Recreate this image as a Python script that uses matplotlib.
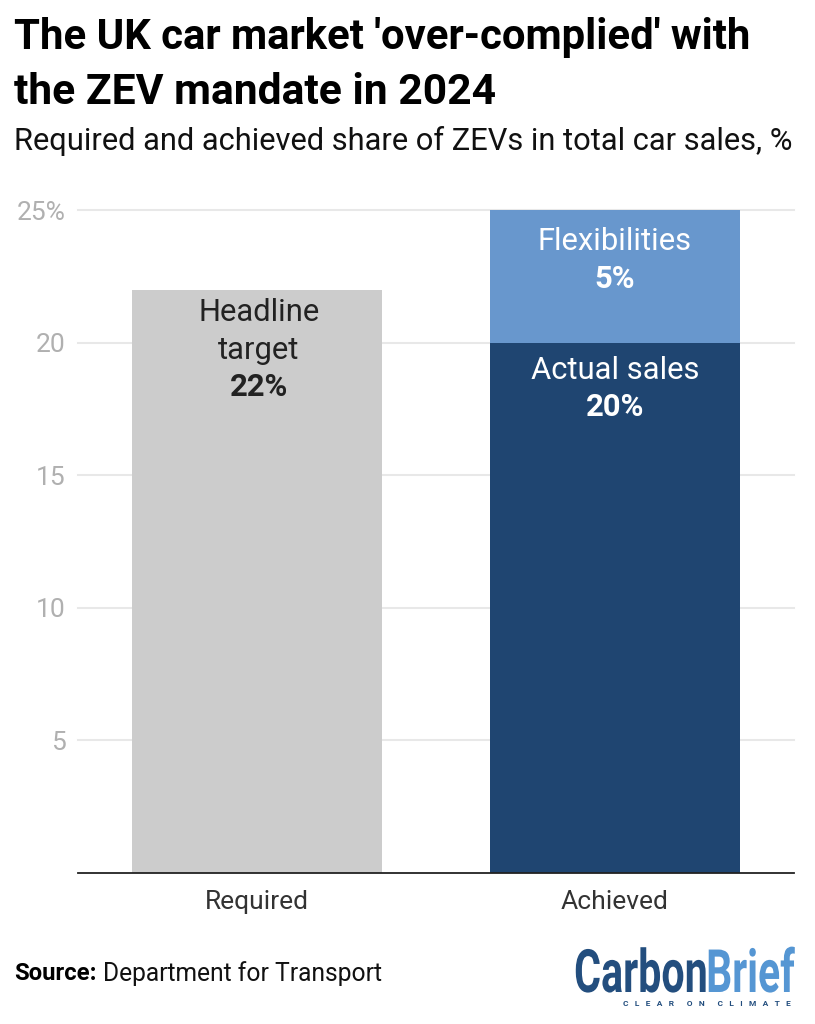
import matplotlib
matplotlib.use('Agg')
import matplotlib.pyplot as plt
from matplotlib.patheffects import AbstractPathEffect
from matplotlib.transforms import Affine2D

plt.rcParams['font.family'] = ['Roboto', 'DejaVu Sans']

# Данные
categories = ['Required', 'Achieved']
base_values = [22, 20]
top_values = [0, 5]
y_ticks = [5, 10, 15, 20, 25]
y_labels = ['5', '10', '15', '20', '25%']

W, H = 815, 1024
fig = plt.figure(figsize=(W / 100, H / 100), dpi=100)
ax = fig.add_axes([78 / W, 1 - 873 / H, (794 - 78) / W, (873 - 210) / H])

colors = ['#cccccc', '#1f4571']
ax.bar(categories, base_values, width=0.7, color=colors, zorder=2)
ax.bar(categories, top_values, bottom=base_values, width=0.7, color='#6897cd', zorder=2)

ax.set_xlim(-0.5, 1.5)
ax.set_ylim(0, 25)
ax.set_yticks(y_ticks)
ax.set_yticklabels(y_labels, color='#b0b0b0', fontsize=19)
ax.set_xticks(range(2))
ax.set_xticklabels(categories, color='#333333', fontsize=19)
ax.tick_params(axis='y', length=0, pad=8.7)
ax.tick_params(axis='x', length=0, pad=12)
ax.grid(axis='y', color='#e8e8e8', lw=1.5, zorder=1)
for line in ax.get_ygridlines():
    line.set_clip_on(False)
ax.set_axisbelow(True)
for s in ['top', 'left', 'right']:
    ax.spines[s].set_visible(False)
ax.spines['bottom'].set_color('#222222')
ax.spines['bottom'].set_linewidth(1.3)

# Подписи столбцов
ax.text(0.005, 21.15, 'Headline', ha='center', va='center', fontsize=22.3, color='#222222')
ax.text(0.005, 19.7, 'target', ha='center', va='center', fontsize=22.3, color='#222222')
ax.text(0.005, 18.31, '22%', ha='center', va='center', fontsize=22.3, weight='bold', color='#222222')
ax.text(1, 23.82, 'Flexibilities', ha='center', va='center', fontsize=22.3, color='white')
ax.text(1, 22.41, '5%', ha='center', va='center', fontsize=22.3, weight='bold', color='white')
ax.text(1, 18.94, 'Actual sales', ha='center', va='center', fontsize=22.3, color='white')
ax.text(1, 17.58, '20%', ha='center', va='center', fontsize=22.3, weight='bold', color='white')

# Заголовок
fig.text(14 / W, 1 - 38 / H, "The UK car market 'over-complied' with", fontsize=30.2, weight='bold', color='black', va='center')
fig.text(14 / W, 1 - 92 / H, 'the ZEV mandate in 2024', fontsize=30.7, weight='bold', color='black', va='center')
fig.text(14 / W, 1 - 141 / H, 'Required and achieved share of ZEVs in total car sales, %', fontsize=22.2, color='#111111', va='center')

# Источник
fig.text(14 / W, 1 - 974 / H, 'Source:', fontsize=17.2, weight='bold', color='black', va='center')
fig.text(103 / W, 1 - 974 / H, 'Department for Transport', fontsize=17.7, color='#111111', va='center')


# Узкое начертание логотипа: текст сжимается по горизонтали
class Squeeze(AbstractPathEffect):
    def __init__(self, sx, x_from, x_to):
        super().__init__()
        self.sx, self.x_from, self.x_to = sx, x_from, x_to

    def draw_path(self, renderer, gc, tpath, affine, rgbFace=None):
        t = affine + Affine2D().translate(-self.x_from, 0).scale(self.sx, 1).translate(self.x_to, 0)
        renderer.draw_path(gc, tpath, t, rgbFace)


# Логотип
fig.text(655 / W, 1 - 976 / H, 'Carbon', fontsize=43, weight='bold', color='#234e7e', ha='right', va='center',
         path_effects=[Squeeze(0.69, 655, 708)])
fig.text(795 / W, 1 - 976 / H, 'Brief', fontsize=43, weight='bold', color='#5596d3', ha='right', va='center',
         path_effects=[Squeeze(0.685, 795, 795)])
fig.text(791 / W, 1 - 1004 / H, 'C   L   E   A   R      O   N      C   L   I   M   A   T   E', fontsize=6, weight='bold', color='#234e7e', ha='right', va='center')

fig.savefig('out.png', dpi=100)
